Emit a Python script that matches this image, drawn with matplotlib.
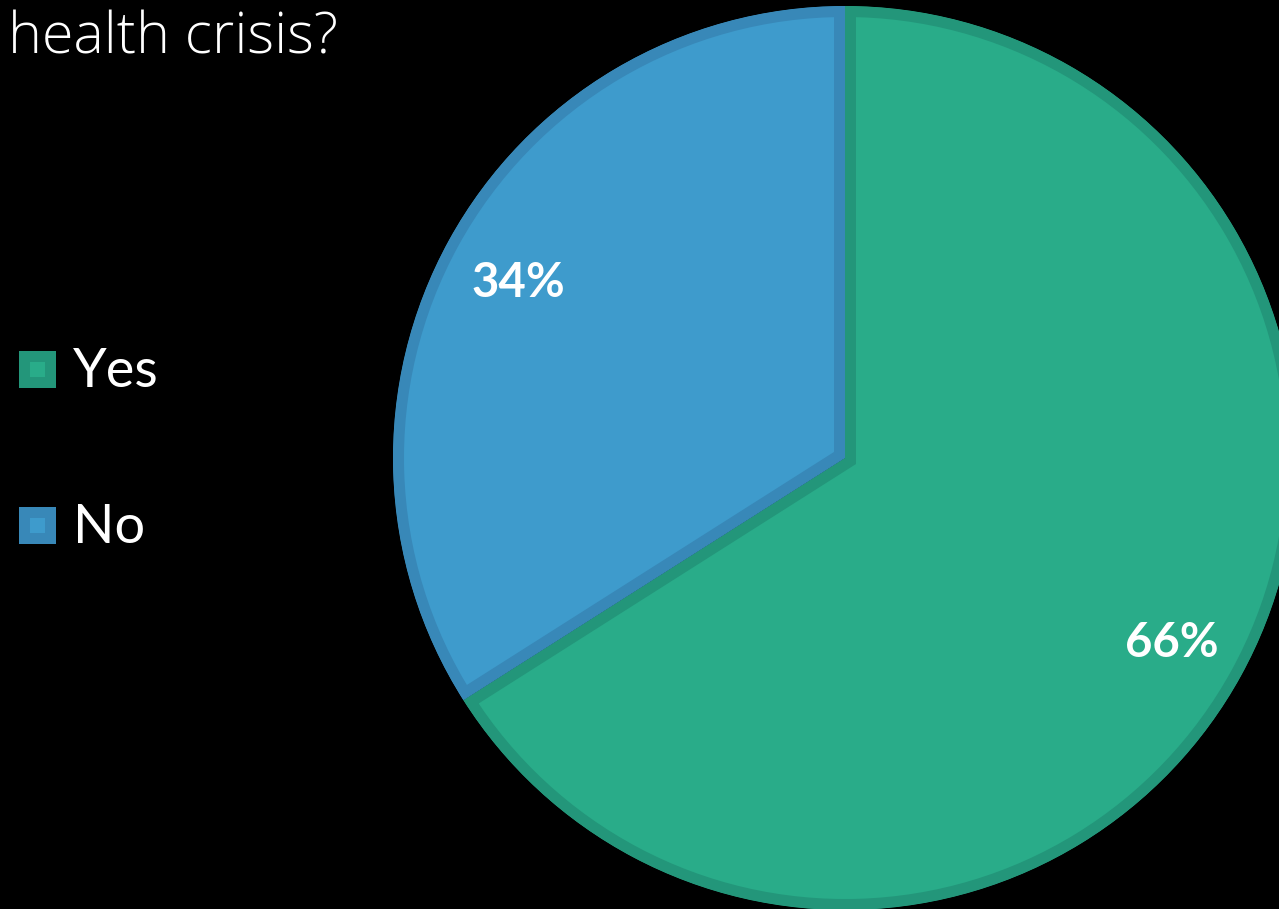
import matplotlib
matplotlib.use("Agg")
import matplotlib.pyplot as plt
from matplotlib.patches import Rectangle

categories = ["Yes", "No"]
values = [66, 34]
title_text = "health crisis?"

fill_colors = ["#29AC89", "#3E9BCC"]
edge_colors = ["#23967A", "#3888B8"]

W, H = 1279, 909
fig = plt.figure(figsize=(W / 100, H / 100), dpi=100, facecolor="black")
ax = fig.add_axes([0, 0, 1, 1])
ax.set_facecolor("black")

def py(y):
    return H - y

border_px = 11
lw_pt = 2 * border_px * 72 / 100

wedges, texts, autotexts = ax.pie(
    values,
    colors=fill_colors,
    startangle=90,
    counterclock=False,
    center=(845, py(458)),
    radius=452,
    autopct=lambda p: f"{p:.0f}%",
    pctdistance=0.825,
    textprops=dict(color="white", fontsize=34, fontweight="bold", family=["Lato", "DejaVu Sans"]),
    wedgeprops=dict(linewidth=lw_pt, joinstyle="miter"),
)
for w, ec in zip(wedges, edge_colors):
    w.set_edgecolor(ec)
    w.set_clip_path(w)
    w.set_clip_on(True)
for t in autotexts:
    x, y = t.get_position()
    t.set_position((x, y - 5))

ax.set_xlim(0, W)
ax.set_ylim(0, H)
ax.set_aspect("equal")
ax.axis("off")

# legend
baselines = [387, 543]
for cat, fc, ec, yb in zip(categories, fill_colors, edge_colors, baselines):
    top = yb - 36
    ax.add_patch(Rectangle((19, py(top + 37)), 37, 37, facecolor=ec, edgecolor="none", zorder=5))
    ax.add_patch(Rectangle((30, py(top + 26)), 15, 15, facecolor=fc, edgecolor="none", zorder=6))
    ax.text(73, py(yb), cat, color="white", fontsize=39, ha="left", va="baseline",
            family=["Lato", "DejaVu Sans"])

ax.text(8, py(53), title_text, color="white", fontsize=41.3, ha="left", va="baseline",
        fontweight=300, family=["Open Sans", "Lato", "DejaVu Sans"])

fig.savefig("out.png", dpi=100, facecolor="black")
